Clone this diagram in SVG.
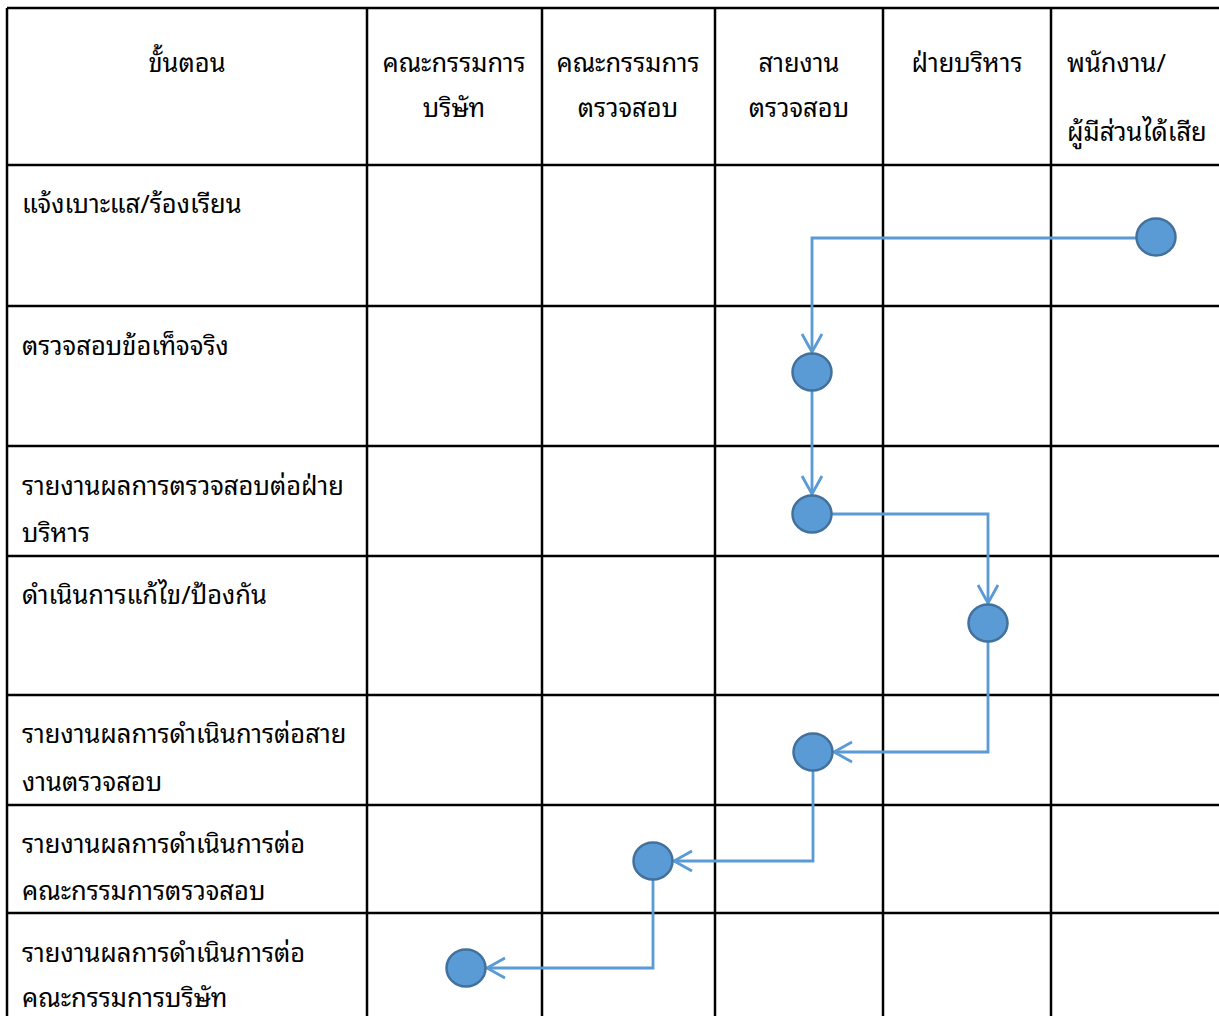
<svg xmlns="http://www.w3.org/2000/svg" width="1219" height="1016" viewBox="0 0 1219 1016">
<style>
.grid{stroke:#000;stroke-width:2.5;fill:none}
.t{font-family:"Noto Sans Thai Looped","Loma","Garuda","Noto Sans Thai","Noto Sans","DejaVu Sans",sans-serif;font-size:25.5px;fill:#000}
.c{text-anchor:middle}
.node{fill:#5B9BD5;stroke:#41719C;stroke-width:2.5}
.conn{fill:none;stroke:#5B9BD5;stroke-width:2.8}
</style>
<defs>
<marker id="arr" markerUnits="userSpaceOnUse" markerWidth="24" markerHeight="24" viewBox="-20 -12 24 24" refX="0" refY="0" orient="auto">
<path d="M-18,-10 L0,0 L-18,10" fill="none" stroke="#5B9BD5" stroke-width="2.8"/>
</marker>
</defs>
<rect width="1219" height="1016" fill="#fff"/>
<g id="grid" class="grid">
<line x1="7" y1="8" x2="1219" y2="8"/>
<line x1="7" y1="8" x2="7" y2="1016"/>
<line x1="367" y1="8" x2="367" y2="1016"/>
<line x1="542" y1="8" x2="542" y2="1016"/>
<line x1="715" y1="8" x2="715" y2="1016"/>
<line x1="883" y1="8" x2="883" y2="1016"/>
<line x1="1051" y1="8" x2="1051" y2="1016"/>
<line x1="7" y1="165" x2="1219" y2="165"/>
<line x1="7" y1="306" x2="1219" y2="306"/>
<line x1="7" y1="446" x2="1219" y2="446"/>
<line x1="7" y1="556" x2="1219" y2="556"/>
<line x1="7" y1="695" x2="1219" y2="695"/>
<line x1="7" y1="805" x2="1219" y2="805"/>
<line x1="7" y1="913" x2="1219" y2="913"/>
</g>
<g id="header" class="t">
<text class="c" x="187" y="72">ขั้นตอน</text>
<text class="c" x="454" y="72">คณะกรรมการ</text>
<text class="c" x="454" y="117">บริษัท</text>
<text class="c" x="628" y="72">คณะกรรมการ</text>
<text class="c" x="628" y="117">ตรวจสอบ</text>
<text class="c" x="799" y="72">สายงาน</text>
<text class="c" x="799" y="117">ตรวจสอบ</text>
<text class="c" x="967" y="72">ฝ่ายบริหาร</text>
<text x="1067" y="72">พนักงาน/</text>
<text x="1067" y="141">ผู้มีส่วนได้เสีย</text>
</g>
<g id="steps" class="t">
<text x="22" y="213">แจ้งเบาะแส/ร้องเรียน</text>
<text x="22" y="355">ตรวจสอบข้อเท็จจริง</text>
<text x="22" y="495">รายงานผลการตรวจสอบต่อฝ่าย</text>
<text x="22" y="542">บริหาร</text>
<text x="22" y="604">ดำเนินการแก้ไข/ป้องกัน</text>
<text x="22" y="743">รายงานผลการดำเนินการต่อสาย</text>
<text x="22" y="791">งานตรวจสอบ</text>
<text x="22" y="853">รายงานผลการดำเนินการต่อ</text>
<text x="22" y="900">คณะกรรมการตรวจสอบ</text>
<text x="22" y="962">รายงานผลการดำเนินการต่อ</text>
<text x="22" y="1007">คณะกรรมการบริษัท</text>
</g>
<g id="connectors" class="conn">
<polyline points="1137,238 812,238 812,352" marker-end="url(#arr)"/>
<polyline points="812,391 812,494" marker-end="url(#arr)"/>
<polyline points="831,514 988,514 988,603" marker-end="url(#arr)"/>
<polyline points="988,642 988,752 834,752" marker-end="url(#arr)"/>
<polyline points="813,771 813,861 674,861" marker-end="url(#arr)"/>
<polyline points="653,880 653,968 487,968" marker-end="url(#arr)"/>
</g>
<g id="n1"><ellipse class="node" cx="1156" cy="237" rx="19.5" ry="18.5"/></g>
<g id="n2"><ellipse class="node" cx="812" cy="372" rx="19.5" ry="18.5"/></g>
<g id="n3"><ellipse class="node" cx="812" cy="514" rx="19.5" ry="18.5"/></g>
<g id="n4"><ellipse class="node" cx="988" cy="623" rx="19.5" ry="18.5"/></g>
<g id="n5"><ellipse class="node" cx="813" cy="752" rx="19.5" ry="18.5"/></g>
<g id="n6"><ellipse class="node" cx="653" cy="861" rx="19.5" ry="18.5"/></g>
<g id="n7"><ellipse class="node" cx="466" cy="968" rx="19.5" ry="18.5"/></g>
</svg>
